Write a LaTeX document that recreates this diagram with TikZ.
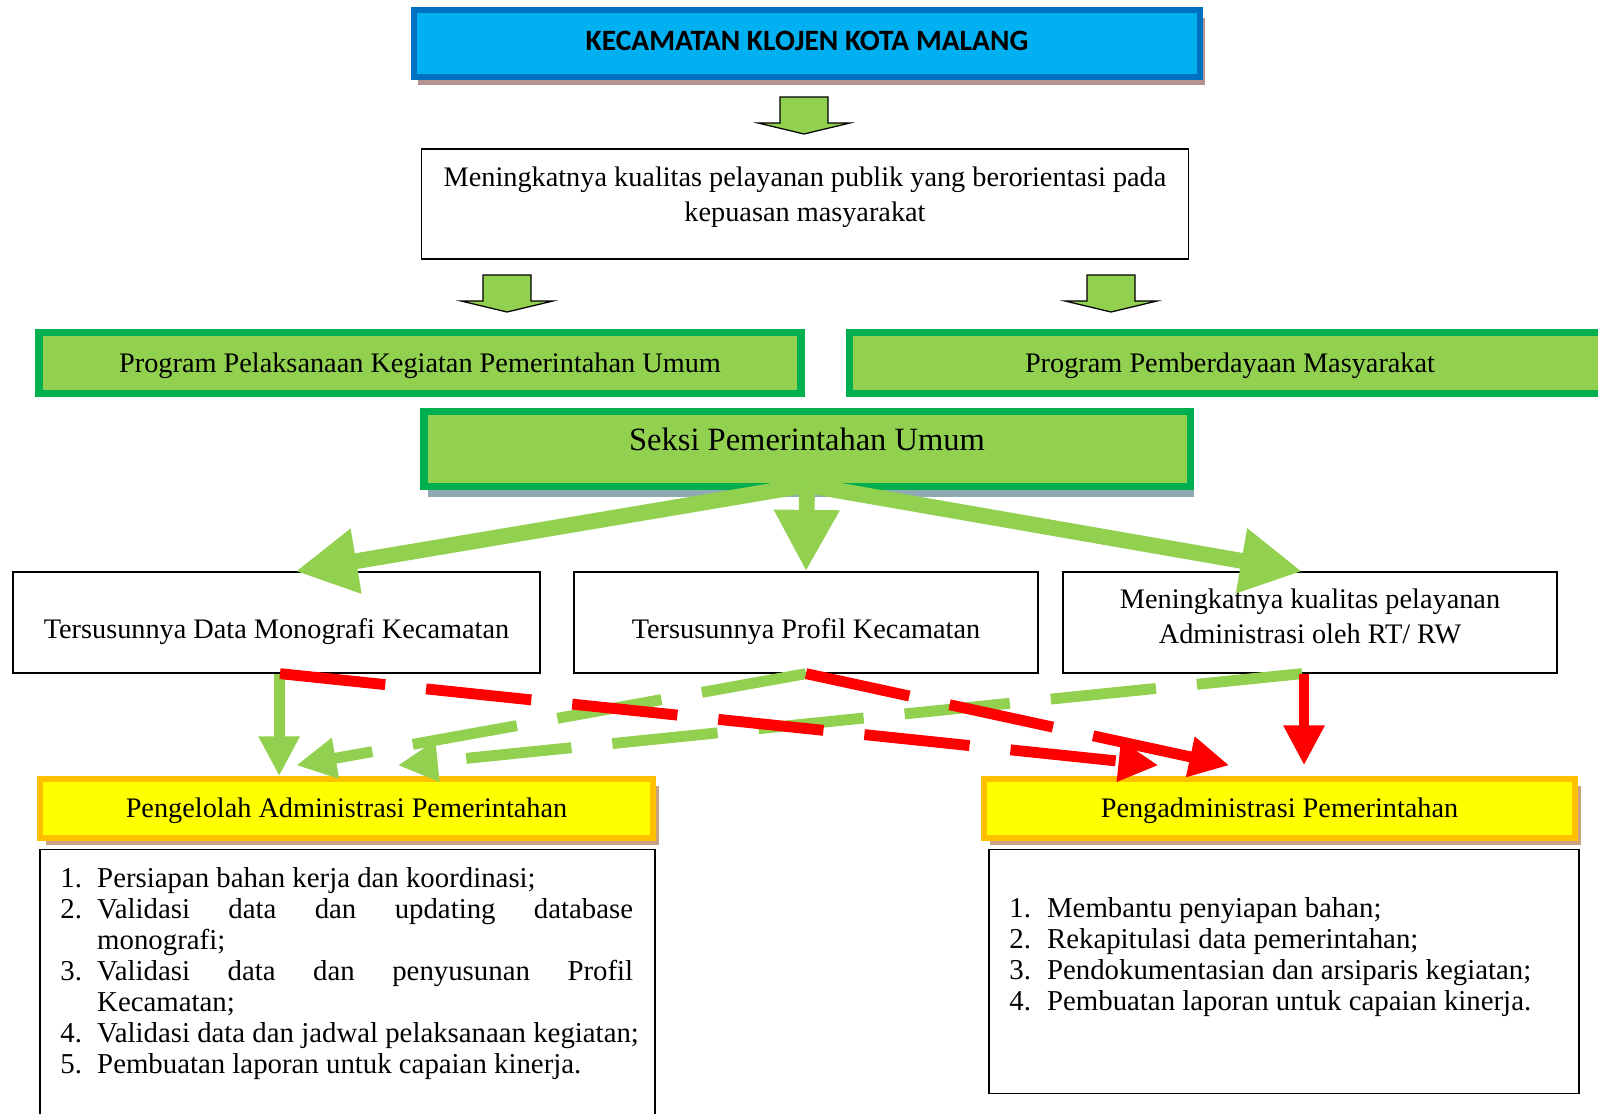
\documentclass[tikz,border=0pt]{standalone}
\usepackage{fontspec}
\setmainfont{Liberation Serif}
\newfontfamily\judulfont{Carlito}
\usetikzlibrary{arrows.meta,shadows}

\definecolor{hijau}{HTML}{92D050}
\definecolor{hijautua}{HTML}{00B050}
\definecolor{biru}{HTML}{00B0F0}
\definecolor{birutua}{HTML}{0070C0}
\definecolor{kuning}{HTML}{FFFF00}
\definecolor{oranye}{HTML}{FFC000}
\definecolor{merah}{HTML}{FF0000}
\definecolor{bayangmerah}{HTML}{B59393}
\definecolor{bayangbiru}{HTML}{8FAAB4}
\definecolor{bayangkuning}{HTML}{C9A27F}

\newcommand{\panahblok}[2]{%
\draw[blok] (#1,#2) ++(-24,0) -- ++(0,26) -- ++(-22,0) -- ++(46,11) -- ++(46,-11) -- ++(-22,0) -- ++(0,-26) -- cycle;}

\tikzset{
 kotak/.style={draw, line width=0.9pt, fill=white, inner sep=0pt, align=center, font=\fontsize{16.1}{20}\selectfont},
 judul/.style={draw=birutua, fill=biru, line width=3.4pt, inner sep=0pt, minimum width=447.5pt, minimum height=38.5pt,
   font=\judulfont\bfseries\fontsize{16.8}{20}\selectfont,
   drop shadow={shadow xshift=2.5pt, shadow yshift=-4.5pt, fill=bayangmerah, opacity=1}},
 program/.style={draw=hijautua, fill=hijau, line width=4pt, inner sep=0pt, minimum width=433.7pt, minimum height=34.6pt,
   font=\fontsize{16.1}{20}\selectfont},
 seksi/.style={program, minimum width=436pt, minimum height=43.1pt, font=\fontsize{18.5}{22}\selectfont,
   drop shadow={shadow xshift=2pt, shadow yshift=-6pt, fill=bayangbiru, opacity=1}},
 jabatan/.style={draw=oranye, fill=kuning, line width=3.4pt, inner sep=0pt, minimum height=33.4pt,
   font=\fontsize{16.1}{20}\selectfont,
   drop shadow={shadow xshift=3.4pt, shadow yshift=-4pt, fill=bayangkuning, opacity=1}},
 isi/.style={anchor=north west, inner sep=0pt, font=\fontsize{16.4}{17.7}\selectfont},
 blok/.style={draw=black, fill=hijau, line width=0.7pt},
 panahbesar/.style={hijau, line width=9pt, -{Triangle[length=35pt, width=35pt]}},
 panahhijau/.style={hijau, line width=6.2pt, -{Triangle[length=22.7pt, width=22pt]}},
 panahmerah/.style={merah, line width=6.2pt, -{Triangle[length=22.7pt, width=22pt]}},
 putus/.style={dash pattern=on 60.2pt off 23.4pt}
}

\begin{document}
\begin{tikzpicture}[x=0.02cm, y=-0.02cm]
\useasboundingbox (0,0) rectangle (1598,1113);

\node[judul] (kec) at (807,43.5) {KECAMATAN KLOJEN KOTA MALANG\rule[-3.4pt]{0pt}{3.4pt}};
\panahblok{804}{97}
\node[kotak, minimum width=436.5pt, minimum height=62.4pt] (visi) at (805,204)
  {Meningkatnya kualitas pelayanan publik yang berorientasi pada\\ kepuasan masyarakat\rule[-11.5pt]{0pt}{11.5pt}};
\panahblok{507}{275}
\panahblok{1111}{275}

\node[program] (progA) at (420,363) {Program Pelaksanaan Kegiatan Pemerintahan Umum\rule{0pt}{14pt}};
\node[program] (progB) at (1230,363) {Program Pemberdayaan Masyarakat\rule{0pt}{14pt}};
\node[seksi] (seksi) at (807,449) {Seksi Pemerintahan Umum\rule[-10.6pt]{0pt}{10.6pt}};

\node[kotak, minimum width=299.9pt, minimum height=57.3pt] (boxA) at (276.5,622.5)
  {\rule{0pt}{21.5pt}Tersusunnya Data Monografi Kecamatan};
\node[kotak, minimum width=264.2pt, minimum height=57.3pt] (boxB) at (806,622.5)
  {\rule{0pt}{21.5pt}Tersusunnya Profil Kecamatan};
\node[kotak, minimum width=281.2pt, minimum height=57.3pt] (boxC) at (1310,622.5)
  {Meningkatnya kualitas pelayanan\\ Administrasi oleh RT/ RW\rule[-7pt]{0pt}{7pt}};

\node[jabatan, minimum width=348.6pt] (pengA) at (346.5,808.5) {Pengelolah Administrasi Pemerintahan\rule{0pt}{14pt}};
\node[jabatan, minimum width=336.2pt] (pengB) at (1279.5,808.5) {Pengadministrasi Pemerintahan\rule{0pt}{14pt}};

\node[kotak, minimum width=349.8pt, minimum height=156.5pt] (tugasA) at (347.5,987) {};
\node[kotak, minimum width=335.6pt, minimum height=138.9pt] (tugasB) at (1284,971.5) {};
\node[isi] (isiA) at (60,865) {%
\begin{tabular}{@{}p{21pt}@{}l@{}}
1. & Persiapan bahan kerja dan koordinasi;\\
2. & \makebox[305pt][s]{Validasi data dan updating database}\\
   & monografi;\\
3. & \makebox[305pt][s]{Validasi data dan penyusunan Profil}\\
   & Kecamatan;\\
4. & Validasi data dan jadwal pelaksanaan kegiatan;\\
5. & Pembuatan laporan untuk capaian kinerja.
\end{tabular}};
\node[isi] (isiB) at (1009,895) {%
\begin{tabular}{@{}p{21.5pt}@{}l@{}}
1. & Membantu penyiapan bahan;\\
2. & Rekapitulasi data pemerintahan;\\
3. & Pendokumentasian dan arsiparis kegiatan;\\
4. & Pembuatan laporan untuk capaian kinerja.
\end{tabular}};

\draw[panahbesar] ([yshift=3pt]seksi.south) -- ([xshift=10.8pt]boxA.north);
\draw[panahbesar] ([yshift=3pt]seksi.south) -- (boxB.north);
\draw[panahbesar] ([yshift=3pt]seksi.south) -- ([xshift=-4.5pt]boxC.north);

\draw[panahhijau] ([xshift=1.5pt]boxA.south) -- ([xshift=1.5pt]boxA.south |- pengA.north);
\draw[panahhijau, putus] (boxB.south) -- ([xshift=-28.6pt, yshift=6.2pt]pengA.north);
\draw[panahhijau, putus] ([xshift=-4.5pt]boxC.south) -- ([xshift=29.2pt, yshift=6.2pt]pengA.north);
\draw[panahmerah, putus] ([xshift=2pt]boxA.south) -- ([xshift=-68.9pt, yshift=6.2pt]pengB.north);
\draw[panahmerah, putus] (boxB.south) -- ([xshift=-28.6pt, yshift=6.2pt]pengB.north);
\draw[panahmerah] ([xshift=-3.4pt]boxC.south) -- ([xshift=-3.4pt, yshift=6.2pt]boxC.south |- pengB.north);
\end{tikzpicture}
\end{document}
